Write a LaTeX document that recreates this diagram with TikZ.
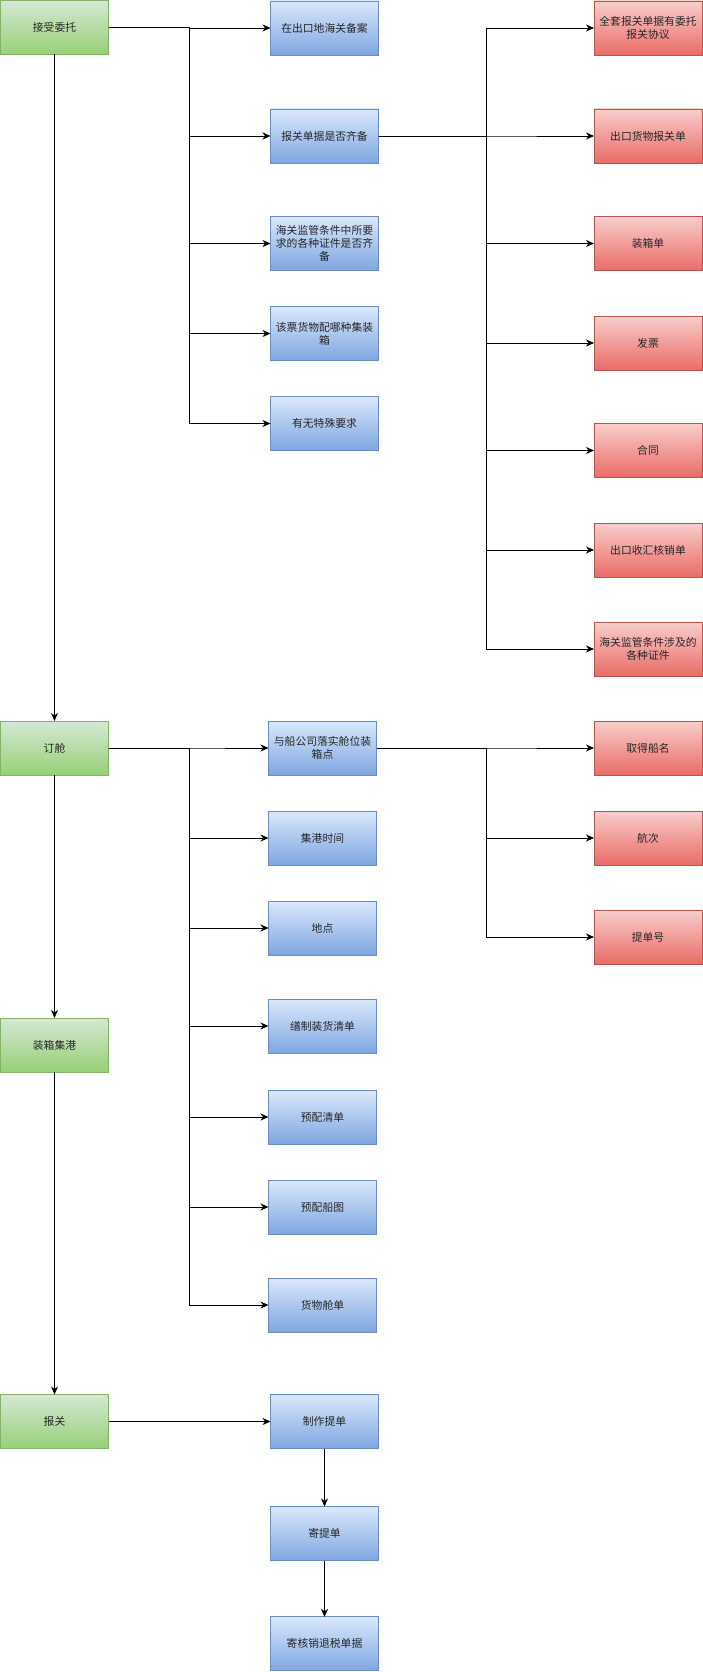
\documentclass[tikz,border=0pt]{standalone}
\usepackage{fontspec}
\setmainfont{Noto Sans CJK SC}
\usetikzlibrary{arrows.meta}
\definecolor{gtop}{HTML}{D5E8D4}\definecolor{gbot}{HTML}{97D077}\definecolor{gline}{HTML}{82B366}
\definecolor{btop}{HTML}{DAE8FC}\definecolor{bbot}{HTML}{7EA6E0}\definecolor{bline}{HTML}{6C8EBF}
\definecolor{rtop}{HTML}{F8CECC}\definecolor{rbot}{HTML}{EA6B66}\definecolor{rline}{HTML}{B85450}
\begin{document}
\begin{tikzpicture}[x=1pt,y=-1pt,
  box/.style={rectangle,minimum width=108pt,minimum height=54pt,inner sep=2pt,outer sep=0pt,
    align=center,line width=0.8pt,font=\fontsize{10.8}{12.8}\selectfont,text=black!85},
  gbox/.style={box,draw=gline,top color=gtop,bottom color=gbot},
  bbox/.style={box,draw=bline,top color=btop,bottom color=bbot},
  rbox/.style={box,draw=rline,top color=rtop,bottom color=rbot},
  arr/.style={line width=0.9pt,-{Stealth[length=8pt,width=7pt,inset=2.5pt]}}]
\useasboundingbox (0,0) rectangle (703,1672);
% green main column
\node[gbox] (g1) at (54.5,27.5) {接受委托};
\node[gbox] (g2) at (54.5,748) {订舱};
\node[gbox] (g3) at (54.5,1045) {装箱集港};
\node[gbox] (g4) at (54.5,1421.5) {报关};
% blue column 1
\node[bbox] (b1) at (324.5,28) {在出口地海关备案};
\node[bbox] (b2) at (324.5,136) {报关单据是否齐备};
\node[bbox] (b3) at (324.5,243.5) {海关监管条件中所要\\求的各种证件是否齐\\备};
\node[bbox] (b4) at (324.5,333.5) {该票货物配哪种集装\\箱};
\node[bbox] (b5) at (324.5,423.5) {有无特殊要求};
% blue column 2
\node[bbox] (c1) at (322.5,748) {与船公司落实舱位装\\箱点};
\node[bbox] (c2) at (322.5,838) {集港时间};
\node[bbox] (c3) at (322.5,928) {地点};
\node[bbox] (c4) at (322.5,1026) {缮制装货清单};
\node[bbox] (c5) at (322.5,1117) {预配清单};
\node[bbox] (c6) at (322.5,1207) {预配船图};
\node[bbox] (c7) at (322.5,1305) {货物舱单};
% blue column 3
\node[bbox] (d1) at (324.5,1421.5) {制作提单};
\node[bbox] (d2) at (324.5,1533.5) {寄提单};
\node[bbox] (d3) at (324.5,1643.8) {寄核销退税单据};
% red column
\node[rbox] (r1) at (648,28) {全套报关单据有委托\\报关协议};
\node[rbox] (r2) at (648,136) {出口货物报关单};
\node[rbox] (r3) at (648,243.5) {装箱单};
\node[rbox] (r4) at (648,343) {发票};
\node[rbox] (r5) at (648,450.5) {合同};
\node[rbox] (r6) at (648,550) {出口收汇核销单};
\node[rbox] (r7) at (648,649) {海关监管条件涉及的\\各种证件};
\node[rbox] (s1) at (648,748) {取得船名};
\node[rbox] (s2) at (648,838) {航次};
\node[rbox] (s3) at (648,937) {提单号};
% trunk coordinates
\coordinate (t1) at (189,0);
\coordinate (t2) at (486,0);
% main vertical flow
\draw[arr] (g1) -- (g2);
\draw[arr] (g2) -- (g3);
\draw[arr] (g3) -- (g4);
% branches from 接受委托
\foreach \n in {b1,b2,b3,b4,b5}
  \draw[arr] (g1.east) -- (g1.east -| t1) |- (\n.west);
% branches from 报关单据是否齐备
\foreach \n in {r1,r2,r3,r4,r5,r6,r7}
  \draw[arr] (b2.east) -- (b2.east -| t2) |- (\n.west);
% branches from 订舱
\foreach \n in {c1,c2,c3,c4,c5,c6,c7}
  \draw[arr] (g2.east) -- (g2.east -| t1) |- (\n.west);
% branches from 与船公司落实舱位装箱点
\foreach \n in {s1,s2,s3}
  \draw[arr] (c1.east) -- (c1.east -| t2) |- (\n.west);
% 报关 chain
\draw[arr] (g4) -- (d1);
\draw[arr] (d1) -- (d2);
\draw[arr] (d2) -- (d3);
\end{tikzpicture}
\end{document}
